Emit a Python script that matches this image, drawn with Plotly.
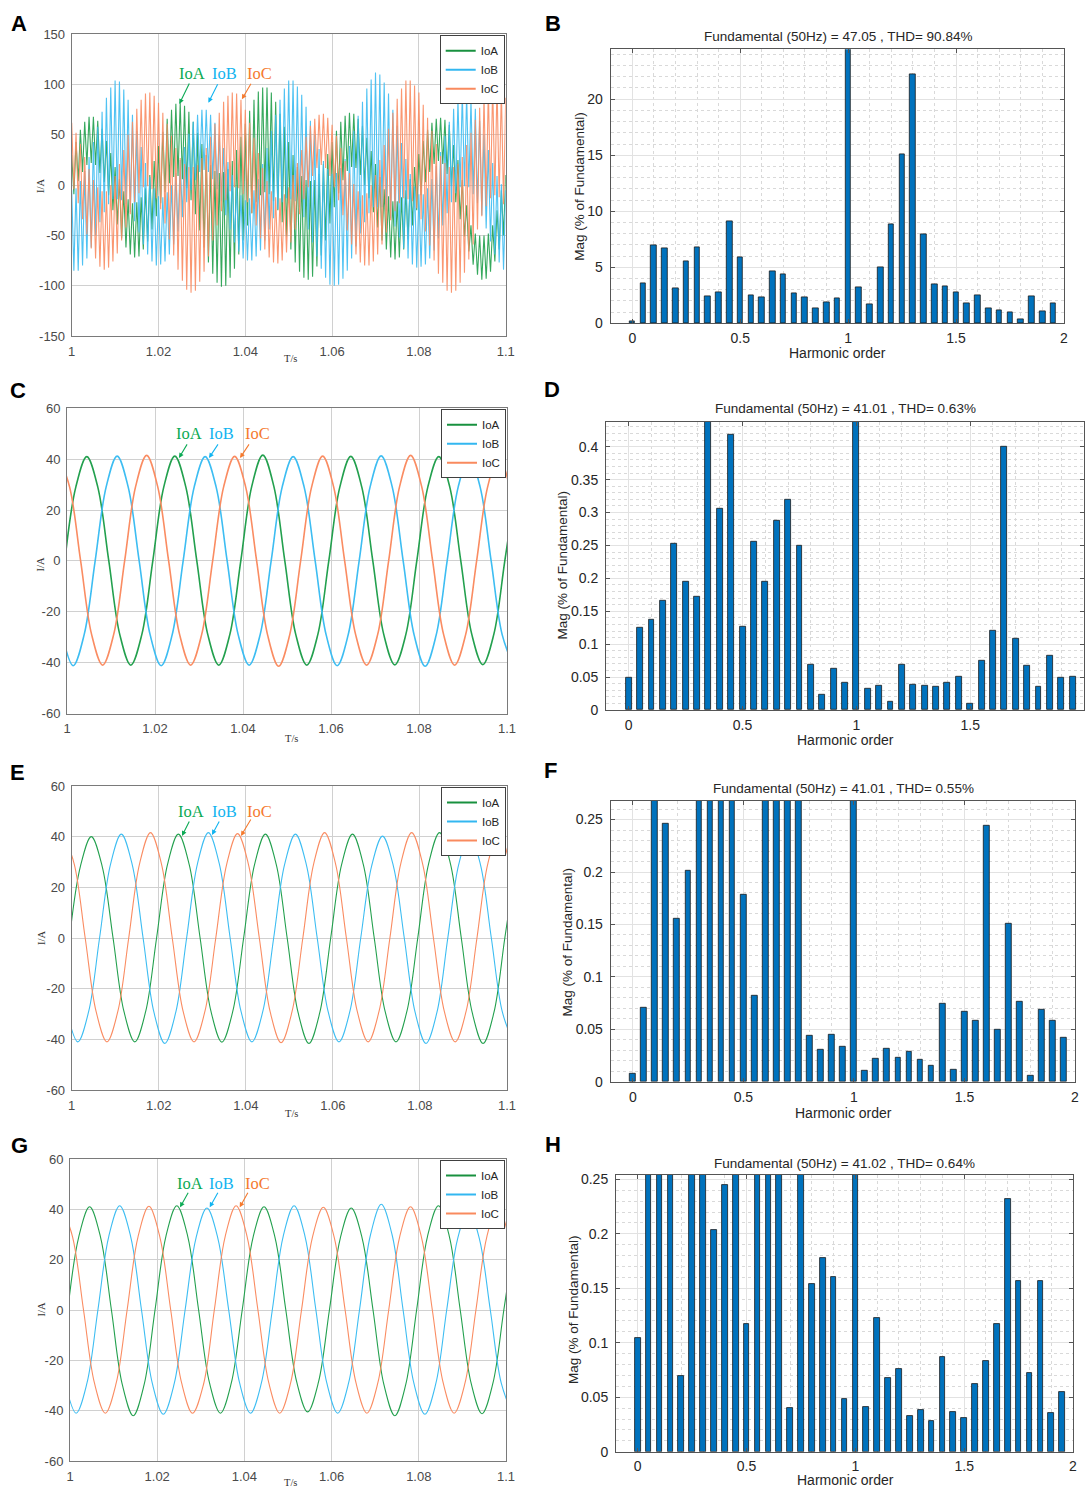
import numpy as np
import plotly.graph_objects as go

W, H = 1086, 1488
SANS = "Liberation Sans, Arial, Helvetica, sans-serif"
SERIF = "Liberation Serif, Times New Roman, serif"

# ---------------- Panel A : oscillation extremes (tops at 1+k ms, bottoms half a ms later)
A_IoA_top = [30, 43, 55, 63, 68, 68, 64, 56, 44, 32, 18, 6, -6, -14, -18, -17, -12, -3, 10, 24,
             39, 53, 66, 75, 81, 82, 79, 73, 63, 52, 41, 30, 20, 14, 12, 13, 16, 24, 35, 48,
             61, 74, 85, 93, 97, 97, 92, 83, 71, 58, 43, 30, 18, 9, 5, 4, 5, 11, 21, 31,
             43, 54, 63, 69, 72, 71, 66, 59, 47, 34, 21, 8, -4, -11, -16, -16, -12, -5, 6, 18,
             31, 44, 55, 62, 66, 67, 65, 60, 40, 25, 5, -20, -40, -48, -50, -50, -48, -40, -25, -5, 10]
A_IoA_bot = [-9, 4, 13, 20, 22, 20, 12, 3, -10, -25, -39, -53, -62, -69, -72, -71, -64, -56, -44, -31,
             -18, -7, 2, 8, 9, 6, -3, -15, -29, -45, -62, -77, -88, -97, -101, -100, -92, -83, -69, -55,
             -40, -28, -17, -10, -7, -9, -16, -25, -37, -51, -64, -77, -86, -92, -94, -91, -81, -70, -55, -38,
             -22, -8, 5, 14, 18, 17, 10, 0, -13, -27, -42, -55, -64, -72, -74, -72, -64, -54, -40, -25,
             -10, 3, 13, 21, 24, 21, 11, -1, -17, -34, -51, -66, -79, -89, -94, -93, -86, -76, -64, -50]
A_IoB_top = [-5, -3, 4, 14, 28, 43, 58, 73, 87, 97, 104, 103, 95, 85, 70, 54, 38, 22, 8, -3,
             -11, -12, -7, 0, 12, 25, 38, 51, 63, 70, 75, 75, 70, 62, 50, 37, 23, 10, -2, -10,
             -15, -13, -5, 6, 21, 37, 54, 70, 85, 96, 104, 104, 98, 90, 78, 64, 50, 36, 24, 16,
             11, 12, 17, 26, 39, 54, 69, 83, 96, 105, 112, 110, 102, 91, 75, 59, 42, 26, 11, -1,
             -9, -9, -3, 6, 19, 33, 49, 63, 76, 85, 91, 90, 85, 76, 64, 50, 35, 22, 9, 1, -5]
A_IoB_bot = [-85, -85, -80, -73, -62, -50, -37, -27, -19, -14, -14, -15, -19, -27, -36, -47, -59, -69, -76, -80,
             -79, -76, -69, -59, -46, -32, -17, -5, 5, 13, 15, 13, 6, -4, -16, -30, -44, -57, -66, -73,
             -75, -75, -71, -65, -55, -44, -33, -24, -17, -13, -14, -16, -22, -32, -44, -57, -71, -83, -92, -99,
             -100, -99, -93, -85, -73, -61, -48, -37, -28, -22, -22, -22, -26, -33, -41, -52, -63, -73, -79, -82,
             -81, -79, -73, -65, -53, -40, -28, -17, -8, -2, -1, -2, -9, -18, -30, -43, -56, -69, -77, -84]
A_IoC_top = [62, 52, 41, 28, 16, 5, -2, -6, -6, 0, 9, 21, 35, 50, 63, 76, 85, 91, 92, 89,
             82, 72, 61, 49, 37, 27, 21, 18, 18, 20, 27, 37, 48, 61, 72, 83, 89, 92, 91, 85,
             75, 62, 47, 32, 17, 4, -6, -12, -13, -9, -2, 10, 22, 35, 48, 59, 66, 70, 71, 67,
             60, 49, 37, 24, 12, 1, -6, -10, -8, 0, 10, 25, 40, 56, 72, 86, 96, 104, 104, 99,
             92, 80, 67, 54, 41, 29, 22, 18, 18, 21, 28, 40, 52, 65, 77, 89, 96, 100, 100, 95, 87]
A_IoC_bot = [-4, -18, -34, -49, -63, -73, -81, -84, -82, -76, -68, -55, -42, -29, -17, -8, -2, -1, -4, -13,
             -24, -38, -54, -70, -84, -95, -104, -107, -105, -96, -86, -71, -55, -40, -26, -15, -6, -2, -3, -9,
             -17, -28, -40, -53, -64, -72, -77, -78, -75, -67, -57, -44, -29, -14, -2, 9, 17, 20, 17, 9,
             -2, -15, -30, -45, -59, -69, -77, -80, -80, -76, -69, -59, -47, -35, -26, -18, -13, -14, -16, -23,
             -34, -46, -60, -75, -88, -97, -105, -107, -105, -97, -87, -74, -59, -44, -31, -21, -13, -10, -12, -19]

# ---------------- Panels C, E, G : readings every 2.5 ms, each phase sampled from its own
# reference instant (IoA from 0.9995 s, IoB from 0.9989 s, IoC from 0.9981 s)
start_time = {"IoA": 0.9995, "IoB": 0.9989, "IoC": 0.9981}
C_IoA = [0, 29.0, 41.0, 29.0, 0, -29.0, -41.0, -29.0, 0, 29.1, 41.2, 29.1, 0, -29.0, -41.0, -29.0,
         0, 29.4, 41.6, 29.4, 0, -29.0, -41.0, -29.0, 0, 29.0, 41.1, 29.0, 0, -29.0, -40.9, -29.0,
         0, 29.0, 41.0, 29.0, 0, -28.9, -40.8, -28.9, 0, 29.0]
C_IoB = [-29.0, -41.2, -29.0, 0, 29.1, 41.2, 29.1, 0, -29.1, -41.2, -29.1, 0, 29.0, 41.0, 29.0, 0,
         -29.0, -41.0, -29.0, 0, 29.0, 41.0, 29.0, 0, -29.1, -41.2, -29.1, 0, 29.2, 41.3, 29.2, 0,
         -29.2, -41.4, -29.2, 0, 29.0, 41.0, 29.0, 0, -29.0, -41.0]
C_IoC = [41.0, 29.0, 0, -29.0, -41.0, -29.0, 0, 29.3, 41.5, 29.3, 0, -29.0, -41.0, -29.0, 0, 29.1,
         41.1, 29.1, 0, -29.2, -41.4, -29.2, 0, 29.1, 41.2, 29.1, 0, -29.0, -41.0, -29.0, 0, 29.3,
         41.5, 29.3, 0, -29.0, -41.0, -29.0, 0, 29.1, 41.2, 29.1]

E_IoA = [0, 28.3, 40.0, 28.3, 0, -29.0, -41.0, -29.0, 0, 29.0, 41.0, 29.0, 0, -29.0, -41.1, -29.0,
         0, 29.0, 41.0, 29.0, 0, -29.4, -41.6, -29.4, 0, 29.0, 41.0, 29.0, 0, -29.0, -41.0, -29.0,
         0, 29.4, 41.6, 29.4, 0, -29.4, -41.6, -29.4, 0, 29.0]
E_IoB = [-29.0, -41.0, -29.0, 0, 29.0, 41.0, 29.0, 0, -29.4, -41.6, -29.4, 0, 29.4, 41.6, 29.4, 0,
         -29.0, -41.0, -29.0, 0, 29.0, 41.0, 29.0, 0, -29.0, -41.0, -29.0, 0, 28.4, 40.2, 28.4, 0,
         -29.4, -41.6, -29.4, 0, 29.0, 41.0, 29.0, 0, -29.0, -41.0]
E_IoC = [41.2, 29.1, 0, -29.0, -41.0, -29.0, 0, 29.4, 41.6, 29.4, 0, -29.0, -41.0, -29.0, 0, 29.1,
         41.2, 29.1, 0, -29.2, -41.3, -29.2, 0, 29.4, 41.6, 29.4, 0, -29.0, -41.0, -29.0, 0, 29.4,
         41.6, 29.4, 0, -29.0, -41.0, -29.0, 0, 29.4, 41.6, 29.4]

G_IoA = [0, 29.0, 41.0, 29.0, 0, -29.7, -42.0, -29.7, 0, 29.3, 41.4, 29.3, 0, -29.0, -41.0, -29.0,
         0, 29.0, 41.0, 29.0, 0, -28.6, -40.5, -28.6, 0, 28.6, 40.5, 28.6, 0, -29.7, -42.0, -29.7,
         0, 29.3, 41.4, 29.3, 0, -29.1, -41.2, -29.1, 0, 29.0]
G_IoB = [-29.0, -41.0, -29.0, 0, 29.3, 41.4, 29.3, 0, -29.3, -41.4, -29.3, 0, 28.6, 40.5, 28.6, 0,
         -29.0, -41.0, -29.0, 0, 29.3, 41.4, 29.3, 0, -29.0, -41.0, -29.0, 0, 29.7, 42.0, 29.7, 0,
         -29.3, -41.4, -29.3, 0, 28.3, 40.0, 28.3, 0, -29.0, -41.0]
G_IoC = [41.0, 29.0, 0, -29.0, -41.0, -29.0, 0, 29.1, 41.2, 29.1, 0, -29.0, -41.0, -29.7, 0, 29.3,
         41.4, 29.3, 0, -29.0, -41.0, -29.0, 0, 28.9, 40.8, 28.9, 0, -29.0, -41.0, -29.0, 0, 29.0,
         41.0, 29.0, 0, -29.0, -41.0, -29.0, 0, 29.1, 41.2, 29.1]

# ---------------- Panels B, D, F, H : FFT magnitudes (% of fundamental)
harmonic_order = [round(0.05 * i, 2) for i in range(40)]
B_mag = [0.2, 3.6, 7.0, 6.7, 3.1, 5.5, 6.8, 2.4, 2.8, 9.1, 5.9, 2.5, 2.3, 4.6, 4.4, 2.7, 2.3, 1.3, 1.9, 2.2,
         100, 3.2, 1.7, 5.0, 8.8, 15.1, 22.2, 7.9, 3.5, 3.3, 2.8, 1.8, 2.5, 1.3, 1.2, 1.0, 0.4, 2.4, 1.1, 1.8]
D_mag = [0.049, 0.125, 0.137, 0.166, 0.253, 0.195, 0.172, 0.52, 0.306, 0.418, 0.126, 0.256, 0.195, 0.288, 0.32,
         0.25, 0.069, 0.024, 0.063, 0.042, 100, 0.033, 0.037, 0.013, 0.069, 0.039, 0.037, 0.035, 0.041, 0.05,
         0.010, 0.075, 0.12, 0.40, 0.109, 0.068, 0.035, 0.082, 0.049, 0.05]
F_mag = [0.0073, 0.071, 0.31, 0.246, 0.155, 0.2017, 0.34, 0.45, 0.38, 0.29, 0.178, 0.0817, 0.36, 0.33, 0.31,
         0.28, 0.0436, 0.031, 0.045, 0.033, 100, 0.0105, 0.022, 0.0318, 0.023, 0.029, 0.0213, 0.015, 0.0747,
         0.0115, 0.0665, 0.058, 0.244, 0.0496, 0.151, 0.076, 0.0054, 0.0687, 0.058, 0.0417]
H_mag = [0.1047, 0.33, 0.29, 0.27, 0.0698, 0.31, 0.28, 0.2035, 0.245, 0.36, 0.117, 0.30, 0.42, 0.29, 0.0404,
         0.27, 0.154, 0.178, 0.16, 0.048, 100, 0.041, 0.1224, 0.0673, 0.0759, 0.0324, 0.038, 0.0285, 0.0866,
         0.0367, 0.031, 0.0624, 0.083, 0.1175, 0.2316, 0.1564, 0.0725, 0.1564, 0.0355, 0.0548]

# tick labels of the time-domain panels (plain hyphen minus, as in the figure)
A_yticks = [-150, -100, -50, 0, 50, 100, 150]
CEG_yticks = [-60, -40, -20, 0, 20, 40, 60]
time_ticks = [1.0, 1.02, 1.04, 1.06, 1.08, 1.1]
time_ticklabels = ["1", "1.02", "1.04", "1.06", "1.08", "1.1"]

titles = ["Fundamental (50Hz) = 47.05 , THD= 90.84%",
          "Fundamental (50Hz) = 41.01 , THD= 0.63%",
          "Fundamental (50Hz) = 41.01 , THD= 0.55%",
          "Fundamental (50Hz) = 41.02 , THD= 0.64%"]
names = ["IoA", "IoB", "IoC"]

COL_LINE = {"IoA": "#23A04E", "IoB": "#3DBDF2", "IoC": "#FA8C62"}
COL_LEG = {"IoA": "#18913F", "IoB": "#33B7F0", "IoC": "#F98A5E"}
COL_TXT = {"IoA": "#0DAA55", "IoB": "#12B4F0", "IoC": "#F57A2E"}


def px_x(x):
    return x / W


def px_y(y):
    return 1 - y / H


fig = go.Figure()

# ---- sample instants
t_hf = np.round(1.0 + 0.0005 * np.arange(201), 6)


def sine_times(n):
    return np.round(start_time[n] + 0.0025 * np.arange(42), 6)


def interleave(top, bot):
    out = []
    for i in range(len(top)):
        out.append(top[i])
        if i < len(bot):
            out.append(bot[i])
    return out


A_series = {"IoA": (A_IoA_top, A_IoA_bot), "IoB": (A_IoB_top, A_IoB_bot), "IoC": (A_IoC_top, A_IoC_bot)}
for n in names:
    top, bot = A_series[n]
    fig.add_trace(go.Scatter(x=t_hf, y=interleave(top, bot), mode="lines",
                             line=dict(color=COL_LINE[n], width=1.1), opacity=0.9,
                             xaxis="x", yaxis="y", showlegend=False, hoverinfo="skip"))

sine_sets = [("x3", "y3", {"IoA": C_IoA, "IoB": C_IoB, "IoC": C_IoC}, 1.6),
             ("x5", "y5", {"IoA": E_IoA, "IoB": E_IoB, "IoC": E_IoC}, 1.1),
             ("x7", "y7", {"IoA": G_IoA, "IoB": G_IoB, "IoC": G_IoC}, 1.1)]
for xa, ya, d, lw in sine_sets:
    for n in names:
        fig.add_trace(go.Scatter(x=sine_times(n), y=d[n], mode="lines",
                                 line=dict(color=COL_LINE[n], width=lw, shape="spline", smoothing=1.0),
                                 xaxis=xa, yaxis=ya, showlegend=False, hoverinfo="skip"))

# legend-only traces (one legend per time-domain panel)
for xa, ya, lg in [("x", "y", "legend"), ("x3", "y3", "legend2"), ("x5", "y5", "legend3"), ("x7", "y7", "legend4")]:
    for n in names:
        fig.add_trace(go.Scatter(x=[None], y=[None], mode="lines", name=n,
                                 line=dict(color=COL_LEG[n], width=2),
                                 xaxis=xa, yaxis=ya, legend=lg, showlegend=True))

# ---- bar panels
for xa, ya, mags in [("x2", "y2", B_mag), ("x4", "y4", D_mag), ("x6", "y6", F_mag), ("x8", "y8", H_mag)]:
    fig.add_trace(go.Bar(x=harmonic_order, y=mags, width=0.026,
                         marker=dict(color="#0072BD", line=dict(color="#1a1a1a", width=0.8)),
                         xaxis=xa, yaxis=ya, showlegend=False, hoverinfo="skip"))

# ---- panel geometry (pixels: left, right, top, bottom)
geo = {
    1: (71.7, 505.7, 34.3, 336.0),
    2: (610.7, 1064.0, 49.3, 323.3),
    3: (67.0, 507.0, 408.3, 713.5),
    4: (606.0, 1084.0, 421.7, 710.0),
    5: (71.7, 507.0, 786.0, 1090.0),
    6: (610.7, 1075.0, 800.7, 1081.7),
    7: (70.0, 506.0, 1159.0, 1461.0),
    8: (616.0, 1073.0, 1175.0, 1451.7),
}

layout = dict(width=W, height=H, margin=dict(l=0, r=0, t=0, b=0, pad=0, autoexpand=False),
              paper_bgcolor="white", plot_bgcolor="white", bargap=0,
              font=dict(family=SANS, color="#262626"))

left_y = {1: (-150, 150, A_yticks), 3: (-60, 60, CEG_yticks), 5: (-60, 60, CEG_yticks), 7: (-60, 60, CEG_yticks)}
right_y = {2: (24.45, 5, 1), 4: (0.438, 0.05, 0.01), 6: (0.268, 0.05, 0.01), 8: (0.254, 0.05, 0.01)}

for i, (l, r, t, b) in geo.items():
    xk = "xaxis" if i == 1 else f"xaxis{i}"
    yk = "yaxis" if i == 1 else f"yaxis{i}"
    xa = "x" if i == 1 else f"x{i}"
    ya = "y" if i == 1 else f"y{i}"
    xdom = [px_x(l), px_x(r)]
    ydom = [px_y(b), px_y(t)]
    if i in left_y:
        lo, hi, yt = left_y[i]
        layout[xk] = dict(domain=xdom, anchor=ya, range=[1.0, 1.1],
                          tickmode="array", tickvals=time_ticks, ticktext=time_ticklabels,
                          showgrid=True, gridcolor="#d0d0d0", gridwidth=1, zeroline=False,
                          showline=True, linecolor="#7a7a7a", linewidth=1, mirror=True,
                          ticks="", tickfont=dict(size=13, color="#4a4a4a", family=SANS),
                          ticklabelstandoff=3, automargin=False)
        layout[yk] = dict(domain=ydom, anchor=xa, range=[lo, hi],
                          tickmode="array", tickvals=yt, ticktext=[str(v) for v in yt],
                          showgrid=True, gridcolor="#d0d0d0", gridwidth=1, zeroline=False,
                          showline=True, linecolor="#7a7a7a", linewidth=1, mirror=True,
                          ticks="", tickfont=dict(size=13, color="#4a4a4a", family=SANS),
                          ticklabelstandoff=3, automargin=False)
    else:
        top, dt, mdt = right_y[i]
        layout[xk] = dict(domain=xdom, anchor=ya, range=[-0.1, 2.0], tick0=0, dtick=0.5,
                          showgrid=True, gridcolor="#e2e2e2", gridwidth=1, zeroline=False,
                          showline=True, linecolor="#555555", linewidth=1, mirror="ticks",
                          ticks="inside", ticklen=4, tickcolor="#555555",
                          tickfont=dict(size=14, color="#262626", family=SANS),
                          ticklabelstandoff=(1 if i == 8 else 2),
                          automargin=False,
                          minor=dict(dtick=0.1, tick0=0, showgrid=True, gridcolor="#d9d9d9",
                                     griddash="dot", gridwidth=1))
        layout[yk] = dict(domain=ydom, anchor=xa, range=[0, top], tick0=0, dtick=dt,
                          showgrid=True, gridcolor="#e2e2e2", gridwidth=1, zeroline=False,
                          showline=True, linecolor="#555555", linewidth=1, mirror="ticks",
                          ticks="inside", ticklen=4, tickcolor="#555555",
                          tickfont=dict(size=14, color="#262626", family=SANS), ticklabelstandoff=4,
                          automargin=False,
                          minor=dict(dtick=mdt, tick0=0, showgrid=True, gridcolor="#d9d9d9",
                                     griddash="dot", gridwidth=1))

# legends (top-right inside each time-domain panel)
leg_pos = {"legend": 1, "legend2": 3, "legend3": 5, "legend4": 7}
for lg, i in leg_pos.items():
    l, r, t, b = geo[i]
    layout[lg] = dict(x=px_x(r - 1), y=px_y(t + 1), xanchor="right", yanchor="top",
                      xref="paper", yref="paper",
                      bgcolor="white", bordercolor="#404040", borderwidth=1,
                      font=dict(size=11.5, family=SANS, color="#262626"),
                      itemwidth=30, tracegroupgap=0, traceorder="normal")

ann = []


def add_text(x, y, text, size, family=SANS, color="#262626", angle=0, bold=False):
    ann.append(dict(x=px_x(x), y=px_y(y), xref="paper", yref="paper", text=(f"<b>{text}</b>" if bold else text),
                    showarrow=False, xanchor="center", yanchor="middle", textangle=angle,
                    font=dict(size=size, family=family, color=color)))


# panel letters
for letter, (x, y) in {"A": (19, 24), "B": (553, 24), "C": (18, 390), "D": (552, 389),
                       "E": (17, 772), "F": (550, 770), "G": (19, 1145), "H": (553, 1144)}.items():
    add_text(x, y, letter, 22, bold=True, color="#000000")

# time-domain axis titles
for (ix, iy), (tx, ty) in [((40, 186), (290, 358)), ((40.5, 565), (291, 739)),
                           ((41, 938), (291, 1113)), ((40.5, 1310), (290, 1482))]:
    add_text(ix, iy, "I/A", 10.5, family=SERIF, color="#333333", angle=-90)
    add_text(tx, ty, "T/s", 10.5, family=SERIF, color="#333333")

# spectrum titles and axis labels
spec_pos = [((837.5, 36.7), (580, 186.7), (837.7, 352.5)),
            ((845, 408.3), (562.6, 565), (845, 739.5)),
            ((843, 788.3), (567.9, 941.7), (843.6, 1112.5)),
            ((844.7, 1163.3), (573, 1310), (845.5, 1480))]
for (tt, yl, xl), title in zip(spec_pos, titles):
    add_text(tt[0], tt[1], title, 13.5, color="#262626")
    add_text(yl[0], yl[1], "Mag (% of Fundamental)", 13.5, color="#262626", angle=-90)
    add_text(xl[0], xl[1], "Harmonic order", 14, color="#262626")

# phase labels with arrows (data coordinates of each time-domain panel)
label_specs = [
    ("x", "y", 111.5, {"IoA": 1.0277, "IoB": 1.0351, "IoC": 1.0432},
     {"IoA": (1.0248, 80.7, 10.7, -22), "IoB": (1.0315, 82.0, 10, -20), "IoC": (1.0392, 85.4, 10, -17)}),
    ("x3", "y3", 49.9, {"IoA": 1.0277, "IoB": 1.0352, "IoC": 1.0432},
     {"IoA": (1.02545, 40.5, 9, -15), "IoB": (1.03227, 40.5, 10, -15), "IoC": (1.03932, 40.5, 10, -15)}),
    ("x5", "y5", 49.85, {"IoA": 1.0275, "IoB": 1.0350, "IoC": 1.0431},
     {"IoA": (1.02534, 40.3, 8, -16), "IoB": (1.03223, 40.7, 8, -15), "IoC": (1.03889, 40.3, 10.7, -18)}),
    ("x7", "y7", 50.3, {"IoA": 1.02745, "IoB": 1.0348, "IoC": 1.0429},
     {"IoA": (1.02523, 40.8, 9, -16), "IoB": (1.03204, 40.8, 9, -16), "IoC": (1.03892, 40.8, 9, -16)}),
]
for xr, yr, ty, txs, arrows in label_specs:
    for n in names:
        ann.append(dict(x=txs[n], y=ty, xref=xr, yref=yr, text=n, showarrow=False,
                        xanchor="center", yanchor="middle",
                        font=dict(size=16.5, family=SERIF, color=COL_TXT[n])))
        ax_, ay_, dx, dy = arrows[n]
        ann.append(dict(x=ax_, y=ay_, xref=xr, yref=yr, text="", showarrow=True,
                        ax=dx, ay=dy, arrowhead=2, arrowsize=0.9, arrowwidth=1.1,
                        arrowcolor=COL_TXT[n], standoff=0, startstandoff=0))

layout["annotations"] = ann
fig.update_layout(**layout)
fig.write_html("out.html",
               config={"displayModeBar": False},
               post_script="document.body.style.margin='0';document.body.style.padding='0';"
                           "document.body.style.overflow='hidden';")
